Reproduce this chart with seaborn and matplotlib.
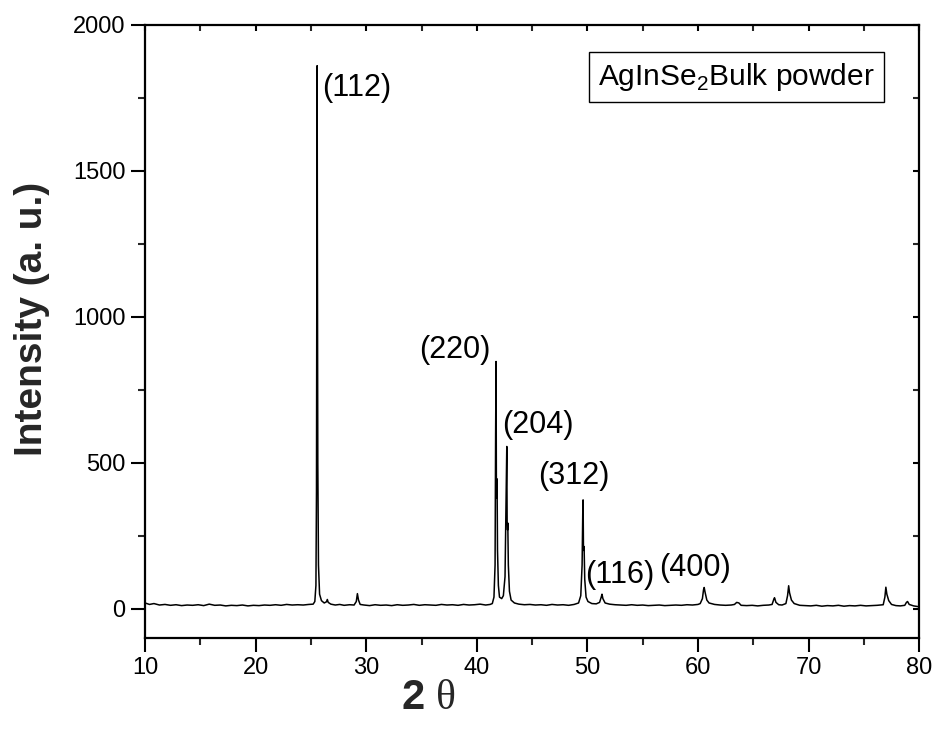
import matplotlib
matplotlib.use("Agg")
import matplotlib.pyplot as plt
from matplotlib.ticker import MultipleLocator
import seaborn as sns

# XRD trace (2 theta in degrees, intensity in a.u.)
two_theta = [
    10.0, 10.4, 10.8, 11.3, 11.8, 12.3, 12.8, 13.3, 13.8, 14.3, 14.8, 15.3,
    15.8, 16.3, 16.8, 17.3, 17.8, 18.3, 18.8, 19.3, 19.8, 20.3, 20.8, 21.3,
    21.8, 22.3, 22.8, 23.3, 23.8, 24.3, 24.8, 25.2,
    25.35, 25.45, 25.50, 25.54, 25.56, 25.58, 25.62, 25.68, 25.78, 25.95,
    26.2, 26.4, 26.48, 26.56, 26.8, 27.2, 27.6, 28.0, 28.5, 28.9,
    29.1, 29.2, 29.3, 29.45, 29.8, 30.3, 30.8, 31.3, 31.8, 32.3, 32.8, 33.3,
    33.8, 34.3, 34.8, 35.3, 35.8, 36.3, 36.8, 37.3, 37.8, 38.3, 38.8, 39.3,
    39.8, 40.3, 40.8, 41.2,
    41.40, 41.55, 41.65, 41.70, 41.74, 41.77, 41.81, 41.83, 41.87, 41.95,
    42.05, 42.25, 42.40, 42.55, 42.65, 42.71, 42.74, 42.78, 42.80, 42.85,
    42.95, 43.1, 43.4, 43.8, 44.3, 44.8, 45.3, 45.8, 46.3, 46.8, 47.3, 47.8,
    48.3, 48.8, 49.2,
    49.40, 49.52, 49.58, 49.61, 49.64, 49.68, 49.70, 49.76, 49.88, 50.05,
    50.4, 50.8, 51.1, 51.25, 51.32, 51.4, 51.6, 52.0, 52.5, 53.0, 53.5, 54.0,
    54.5, 55.0, 55.5, 56.0, 56.5, 57.0, 57.5, 58.0, 58.5, 59.0, 59.5, 60.0,
    60.2, 60.4, 60.5, 60.56, 60.65, 60.8, 61.0, 61.5, 62.0, 62.5, 63.0,
    63.3, 63.5, 63.7, 63.9, 64.4, 64.9, 65.4, 65.9, 66.4,
    66.7, 66.85, 66.92, 67.05, 67.3, 67.6, 67.95, 68.1, 68.2, 68.28, 68.45,
    68.7, 69.2, 69.7, 70.2, 70.7, 71.2, 71.7, 72.2, 72.7, 73.2, 73.7, 74.2,
    74.7, 75.2, 75.7, 76.2, 76.5,
    76.75, 76.9, 76.99, 77.08, 77.25, 77.5, 77.9, 78.3, 78.7, 78.85, 78.95,
    79.1, 79.5, 80.0,
]
intensity = [
    20, 15, 18, 13, 15, 12, 14, 11, 13, 12, 14, 11,
    16, 12, 13, 10, 12, 11, 13, 10, 12, 11, 13, 12,
    14, 12, 15, 13, 14, 13, 15, 16,
    25, 80, 400, 1500, 1860, 1300, 500, 150, 50, 28,
    20, 24, 32, 22, 16, 13, 15, 12, 14, 13,
    25, 52, 30, 15, 13, 11, 14, 12, 13, 11, 14, 12,
    13, 15, 12, 14, 13, 12, 15, 13, 14, 12, 15, 13,
    14, 16, 13, 15,
    18, 40, 150, 600, 847, 400, 380, 445, 200, 80,
    40, 35, 45, 110, 400, 556, 300, 270, 294, 150,
    60, 30, 20, 16, 14, 15, 13, 14, 12, 15, 13, 14,
    12, 15, 20,
    45, 150, 330, 373, 220, 200, 213, 100, 40, 25,
    18, 17, 22, 40, 50, 35, 20, 16, 14, 13, 12, 14,
    12, 13, 11, 12, 13, 11, 12, 13, 12, 14, 13, 15,
    18, 35, 65, 73, 55, 30, 20, 15, 13, 12, 13,
    15, 22, 20, 12, 11, 12, 10, 12, 13,
    15, 32, 38, 22, 14, 13, 18, 45, 79, 55, 30,
    18, 12, 11, 10, 12, 9, 11, 10, 12, 9, 11, 10,
    12, 10, 11, 12, 13,
    14, 40, 74, 50, 28, 15, 11, 10, 12, 22, 25,
    15, 10, 7,
]

hkl_labels = ["(112)", "(220)", "(204)", "(312)", "(116)", "(400)"]
label_x = [26.0, 38.0, 45.5, 48.8, 52.9, 59.7]
label_y = [1784, 887, 630, 455, 116, 140]
label_ha = ["left", "center", "center", "center", "center", "center"]

sns.set_style("ticks")
plt.rcParams["font.family"] = ["Liberation Sans", "DejaVu Sans"]
plt.rcParams["mathtext.fontset"] = "custom"
plt.rcParams["mathtext.rm"] = "Liberation Sans"
plt.rcParams["mathtext.tt"] = "Liberation Serif"

fig = plt.figure(figsize=(9.36, 7.30), dpi=100)
ax = fig.add_axes([0.155, 0.126, 0.827, 0.840])

sns.lineplot(x=two_theta, y=intensity, ax=ax, color="black", linewidth=1.1,
             estimator=None, sort=False)

ax.set_xlim(10, 80)
ax.set_ylim(-100, 2000)
ax.xaxis.set_major_locator(MultipleLocator(10))
ax.xaxis.set_minor_locator(MultipleLocator(5))
ax.yaxis.set_major_locator(MultipleLocator(500))
ax.yaxis.set_minor_locator(MultipleLocator(250))

for side in ["left", "right", "top", "bottom"]:
    ax.spines[side].set_linewidth(1.6)
    ax.spines[side].set_color("black")

ax.tick_params(which="major", direction="out", length=10, width=1.5,
               labelsize=17, colors="black", pad=4)
ax.tick_params(which="minor", direction="out", length=5, width=1.5)
ax.tick_params(axis="x", which="both", top=True, labeltop=False)
ax.tick_params(axis="y", which="both", right=True, labelright=False)

# top and right ticks point inward and are short
for t in ax.xaxis.get_major_ticks() + ax.xaxis.get_minor_ticks():
    t.tick2line.set_marker(3)
    t.tick2line.set_markersize(4)
for t in ax.yaxis.get_major_ticks() + ax.yaxis.get_minor_ticks():
    t.tick2line.set_marker(0)
    t.tick2line.set_markersize(4)

ax.set_xlabel(r"2 $\mathtt{\theta}$", fontsize=30, fontweight="bold")
ax.xaxis.set_label_coords(0.366, -0.066)
ax.set_ylabel("Intensity (a. u.)", fontsize=28, fontweight="bold")
ax.yaxis.set_label_coords(-0.123, 0.52)

for lab, lx, ly, ha in zip(hkl_labels, label_x, label_y, label_ha):
    ax.text(lx, ly, lab, fontsize=22, ha=ha, va="center", color="black")

ax.text(76.0, 1822, r"AgInSe$_2$Bulk powder", fontsize=21.5, ha="right",
        va="center", color="black",
        bbox=dict(boxstyle="square,pad=0.3", fc="white", ec="black", lw=1.0))

fig.savefig("out.png", dpi=100)
